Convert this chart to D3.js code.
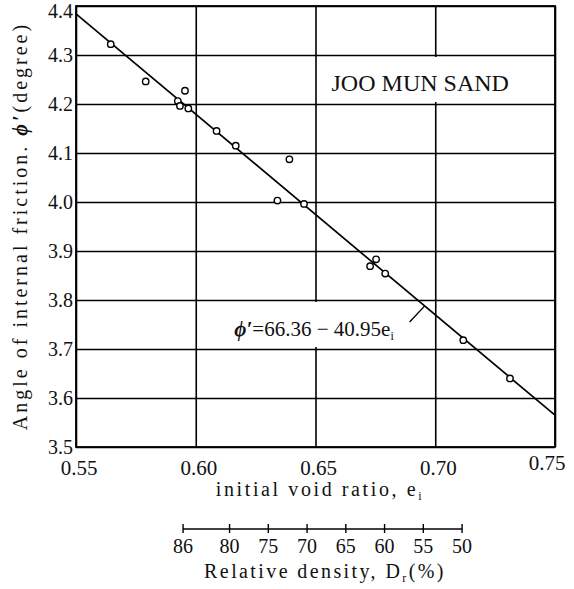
<!DOCTYPE html>
<html>
<head>
<meta charset="utf-8">
<script src="https://cdn.jsdelivr.net/npm/d3@7"></script>
<style>
body { margin:0; background:#fff; }
svg { display:block; }
</style>
</head>
<body>
<svg id="chart" width="574" height="589"></svg>
<script>
// measured points: initial void ratio e_i, angle (x10 deg)
var voidRatio = [0.5645, 0.5791, 0.5955, 0.5925, 0.5934, 0.5969, 0.6087, 0.6167,
                 0.6391, 0.6341, 0.6452, 0.6728, 0.6753, 0.6791, 0.7117, 0.7312];
var phiVals   = [4.322, 4.246, 4.227, 4.206, 4.196, 4.191, 4.145, 4.115,
                 4.087, 4.003, 3.996, 3.869, 3.883, 3.854, 3.718, 3.640];
// fitted line phi' = 66.36 - 40.95 e  (plotted /10)
var fitE   = [0.55, 0.75];
var fitPhi = [4.384, 3.565];
var xTicks = [0.55, 0.60, 0.65, 0.70, 0.75];
var yTicks = [3.5, 3.6, 3.7, 3.8, 3.9, 4.0, 4.1, 4.2, 4.3, 4.4];
var drTicks = [86, 80, 75, 70, 65, 60, 55, 50];
var drVoid  = [0.5947, 0.7112];   // void ratio at Dr = 86% and 50%

var SERIF = '"Liberation Serif", "Times New Roman", Times, "DejaVu Serif", serif';

function drawChart(id) {

var svg = d3.select("#" + id);
svg.selectAll("*").remove();

var x = d3.scaleLinear().domain([0.55, 0.75]).range([76, 555]);
var y = d3.scaleLinear().domain([3.5, 4.4]).range([447, 6]);

var main = svg.append('g')
    .attr('class','main')
    .attr('font-family', SERIF)
    .attr('fill', '#111')
;

// grid lines
main.append('g')
    .attr('transform','translate(0,' + y(3.5) + ')')
    .call(d3.axisBottom(x).tickValues(xTicks).tickSize(-(y(3.5) - y(4.4))).tickFormat(''))
    .call(function(g){ g.select('.domain').remove(); })
    .selectAll('line').attr('stroke','#000').attr('stroke-width',1.6)
;
main.append('g')
    .attr('transform','translate(' + x(0.55) + ',0)')
    .call(d3.axisLeft(y).tickValues(yTicks).tickSize(-(x(0.75) - x(0.55))).tickFormat(''))
    .call(function(g){ g.select('.domain').remove(); })
    .selectAll('line').attr('stroke','#000').attr('stroke-width',1.6)
;

// white boxes behind the labels (grid is broken there)
main.append('rect')
    .attr('x', x(0.653)).attr('y', y(4.3) + 2)
    .attr('width', x(0.745) - x(0.653)).attr('height', y(4.2) - y(4.3) - 4)
    .attr('fill','#fff')
;
main.append('rect')
    .attr('x', x(0.612)).attr('y', y(3.8) + 2)
    .attr('width', x(0.69) - x(0.612)).attr('height', y(3.7) - y(3.8) - 4)
    .attr('fill','#fff')
;

// frame
main.append('rect')
    .attr('x', x(0.55)).attr('y', y(4.4))
    .attr('width', x(0.75) - x(0.55)).attr('height', y(3.5) - y(4.4))
    .attr('fill','none').attr('stroke','#000').attr('stroke-width',1.8)
;

// tick labels
main.selectAll('.ylab').data(yTicks).enter().append('text')
    .attr('class','ylab')
    .attr('x', x(0.55) - 3)
    .attr('y', function(d){ return y(d) + (d === 4.4 ? 12 : 7); })
    .attr('text-anchor','end')
    .style('font-size','20px')
    .text(function(d){ return d.toFixed(1); })
;
main.selectAll('.xlab').data(xTicks).enter().append('text')
    .attr('class','xlab')
    .attr('x', function(d){ return x(d) + (d === 0.75 ? -8 : 3); })
    .attr('y', function(d){ return d === 0.75 ? 470 : 475; })
    .attr('text-anchor','middle')
    .style('font-size','21px')
    .text(function(d){ return d.toFixed(2); })
;

// axis titles
var xt = main.append('text')
    .attr('x', 320).attr('y', 496)
    .attr('text-anchor','middle')
    .style('font-size','20px').style('letter-spacing','2.6px')
    .text('initial void ratio, e');
xt.append('tspan').attr('dy',4).style('font-size','12px').text('i');

var yt = main.append('text')
    .attr('transform','translate(27,226) rotate(-90)')
    .attr('text-anchor','middle')
    .style('font-size','20px').style('letter-spacing','3px');
yt.append('tspan').text('Angle of internal friction. ');
yt.append('tspan').style('font-style','italic').style('font-weight','bold').text('ϕ′');
yt.append('tspan').text('(degree)');

// fitted line
var line = d3.line().x(function(d){ return x(d[0]); }).y(function(d){ return y(d[1]); });
main.append('path')
    .attr('d', line(d3.zip(fitE, fitPhi)))
    .attr('fill','none').attr('stroke','#000').attr('stroke-width',1.7)
;

// points
main.selectAll('.pt').data(d3.zip(voidRatio, phiVals)).enter().append('circle')
    .attr('class','pt')
    .attr('cx', function(d){ return x(d[0]); })
    .attr('cy', function(d){ return y(d[1]); })
    .attr('r', 3.2)
    .attr('fill','#fff').attr('stroke','#000').attr('stroke-width',1.4)
;

// labels inside
main.append('text')
    .attr('x', x(0.6567)).attr('y', y(4.2265))
    .style('font-size','24px')
    .text('JOO MUN SAND');

var eq = main.append('text')
    .attr('x', x(0.6161)).attr('y', y(3.7265))
    .style('font-size','21px');
eq.append('tspan').style('font-style','italic').style('font-weight','bold').text('ϕ′');
eq.append('tspan').text('=66.36 − 40.95e');
eq.append('tspan').attr('dy',4).style('font-size','12px').text('i');

main.append('path')
    .attr('d', line([[0.6893, 3.755], [0.6956, 3.788]]))
    .attr('fill','none').attr('stroke','#000').attr('stroke-width',1.4)
;

// relative density scale
var dr = d3.scaleLinear().domain([86, 50]).range([x(drVoid[0]), x(drVoid[1])]);
var drAxis = main.append('g')
    .attr('transform','translate(0,529)')
;
drAxis.append('line')
    .attr('x1', dr(86)).attr('x2', dr(50))
    .attr('stroke','#000').attr('stroke-width',1.6)
;
drAxis.selectAll('.drt').data(drTicks).enter().append('line')
    .attr('class','drt')
    .attr('x1', function(d){ return dr(d); }).attr('x2', function(d){ return dr(d); })
    .attr('y1', -5).attr('y2', 4)
    .attr('stroke','#000').attr('stroke-width',1.4)
;
drAxis.selectAll('.drl').data(drTicks).enter().append('text')
    .attr('class','drl')
    .attr('x', function(d){ return dr(d); })
    .attr('y', 24)
    .attr('text-anchor','middle')
    .style('font-size','20px')
    .text(function(d){ return d; })
;
var dt = main.append('text')
    .attr('x', 325).attr('y', 578)
    .attr('text-anchor','middle')
    .style('font-size','20px').style('letter-spacing','2.4px')
    .text('Relative density, D');
dt.append('tspan').attr('dy',4).style('font-size','12px').text('r');
dt.append('tspan').attr('dy',-4).text('(%)');

}

drawChart('chart');
</script>
</body>
</html>
